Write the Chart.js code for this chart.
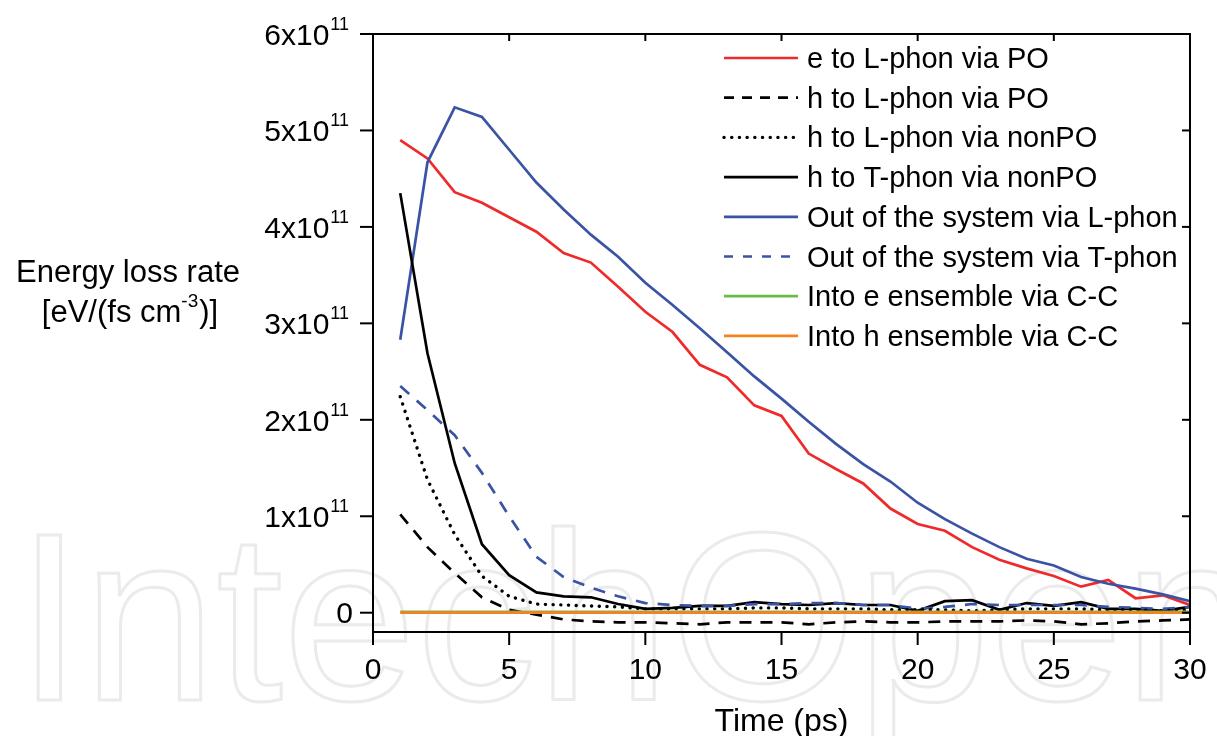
<!DOCTYPE html>
<html>
<head>
<meta charset="utf-8">
<title>Energy loss rate</title>
<script src="https://cdn.jsdelivr.net/npm/chart.js@4.4.1/dist/chart.umd.min.js"></script>
<style>
  html, body { margin: 0; padding: 0; background: #fff; }
  #wrap { width: 1217px; height: 736px; }
</style>
</head>
<body>
<div id="wrap"><canvas id="chart" width="1217" height="736"></canvas></div>
<script>
// time axis (ps) and series values, in units of 1e11 eV/(fs cm^-3)
const timePs = [1, 2, 3, 4, 5, 6, 7, 8, 9, 10, 11, 12, 13, 14, 15, 16, 17, 18, 19, 20, 21, 22, 23, 24, 25, 26, 27, 28, 29, 30];

const eToLphonPO = [4.90, 4.71, 4.36, 4.25, 4.10, 3.95, 3.73, 3.63, 3.38, 3.12, 2.91, 2.57, 2.44, 2.15, 2.04,
                    1.65, 1.49, 1.34, 1.08, 0.92, 0.85, 0.68, 0.55, 0.46, 0.38, 0.27, 0.34, 0.15, 0.18, 0.08];
const hToLphonPO = [1.02, 0.68, 0.41, 0.16, 0.03, -0.02, -0.07, -0.09, -0.10, -0.10, -0.11, -0.12, -0.10, -0.10, -0.10,
                    -0.12, -0.10, -0.09, -0.10, -0.10, -0.09, -0.09, -0.09, -0.08, -0.09, -0.12, -0.11, -0.09, -0.08, -0.07];
const hToLphonNonPO = [2.24, 1.38, 0.81, 0.38, 0.17, 0.09, 0.08, 0.07, 0.06, 0.04, 0.04, 0.04, 0.04, 0.05, 0.05,
                       0.04, 0.04, 0.04, 0.03, 0.03, 0.03, 0.02, 0.03, 0.04, 0.04, 0.04, 0.03, 0.03, 0.02, 0.03];
const hToTphonNonPO = [4.35, 2.69, 1.55, 0.71, 0.39, 0.21, 0.17, 0.16, 0.09, 0.04, 0.05, 0.07, 0.07, 0.11, 0.09,
                       0.08, 0.10, 0.08, 0.08, 0.02, 0.12, 0.13, 0.03, 0.10, 0.07, 0.11, 0.04, 0.04, 0.02, 0.06];
const outViaLphon = [2.83, 4.67, 5.24, 5.14, 4.80, 4.46, 4.18, 3.92, 3.69, 3.42, 3.19, 2.95, 2.70, 2.45, 2.22,
                     1.98, 1.75, 1.54, 1.36, 1.14, 0.97, 0.82, 0.68, 0.56, 0.49, 0.37, 0.30, 0.25, 0.19, 0.12];
const outViaTphon = [2.35, 2.10, 1.84, 1.45, 1.00, 0.58, 0.37, 0.26, 0.17, 0.10, 0.08, 0.07, 0.07, 0.09, 0.09,
                     0.10, 0.10, 0.08, 0.08, 0.04, 0.06, 0.09, 0.08, 0.08, 0.08, 0.08, 0.06, 0.05, 0.04, 0.06];
const intoEviaCC = [0.01, 0.01, 0.01, 0.01, 0.01, 0.01, 0.01, 0.01, 0.01, 0.01, 0.01, 0.01, 0.01, 0.01, 0.01,
                    0.01, 0.01, 0.01, 0.01, 0.01, 0.01, 0.01, 0.01, 0.01, 0.01, 0.01, 0.01, 0.01, 0.01, 0.01];
const intoHviaCC = [0, 0, 0, 0, 0, 0, 0, 0, 0, 0, 0, 0, 0, 0, 0,
                    0, 0, 0, 0, 0, 0, 0, 0, 0, 0, 0, 0, 0, 0, 0];

const seriesLabels = ['e to L-phon via PO', 'h to L-phon via PO', 'h to L-phon via nonPO', 'h to T-phon via nonPO',
                      'Out of the system via L-phon', 'Out of the system via T-phon', 'Into e ensemble via C-C', 'Into h ensemble via C-C'];
const xTicks = [0, 5, 10, 15, 20, 25, 30];
const yTicks = [0, 1, 2, 3, 4, 5, 6];

const FONT = '"Liberation Sans", Arial, sans-serif';
const RED = '#ee2a2a', BLUE = '#3a53a4', BLACK = '#000000', GREEN = '#69bd45', ORANGE = '#f58220';

function pts(arr) {
    return arr.map((v, i) => ({ x: timePs[i], y: v }));
}

function ds(label, arr, color, dash, cap) {
    return {
        label: label,
        data: pts(arr),
        borderColor: color,
        backgroundColor: color,
        borderWidth: dash && dash[0] < 1 ? 3.4 : 2.7,
        borderDash: dash || [],
        borderCapStyle: cap || 'butt',
        pointRadius: 0,
        tension: 0,
        fill: false
    };
}

// first dataset ends up on top
const datasets = [
    ds(seriesLabels[7], intoHviaCC, ORANGE),
    ds(seriesLabels[6], intoEviaCC, GREEN),
    ds(seriesLabels[1], hToLphonPO, BLACK, [12, 9]),
    ds(seriesLabels[2], hToLphonNonPO, BLACK, [0.1, 7.6], 'round'),
    ds(seriesLabels[5], outViaTphon, BLUE, [12, 10]),
    ds(seriesLabels[3], hToTphonNonPO, BLACK),
    ds(seriesLabels[4], outViaLphon, BLUE),
    ds(seriesLabels[0], eToLphonPO, RED)
];

// legend order and styles as in the figure
const legendItems = [
    { text: seriesLabels[0], color: RED, dash: [] },
    { text: seriesLabels[1], color: BLACK, dash: [10, 8] },
    { text: seriesLabels[2], color: BLACK, dash: [0.1, 7.6], cap: 'round', width: 3.4 },
    { text: seriesLabels[3], color: BLACK, dash: [] },
    { text: seriesLabels[4], color: BLUE, dash: [] },
    { text: seriesLabels[5], color: BLUE, dash: [9, 10] },
    { text: seriesLabels[6], color: GREEN, dash: [] },
    { text: seriesLabels[7], color: ORANGE, dash: [] }
];

function line(ctx, x1, y1, x2, y2) {
    ctx.beginPath();
    ctx.moveTo(x1, y1);
    ctx.lineTo(x2, y2);
    ctx.stroke();
}

const watermark = {
    id: 'watermark',
    beforeDatasetsDraw(chart) {
        const ctx = chart.ctx;
        ctx.save();
        ctx.font = '240px ' + FONT;
        ctx.strokeStyle = '#ebebeb';
        ctx.lineWidth = 3;
        ctx.textBaseline = 'alphabetic';
        ctx.textAlign = 'left';
        ctx.strokeText('IntechOpen', 16, 700);
        ctx.restore();
    }
};

const frame = {
    id: 'frame',
    afterDraw(chart) {
        const { ctx, chartArea: a, scales: { x, y } } = chart;
        ctx.save();
        ctx.strokeStyle = '#000';
        ctx.lineWidth = 2;
        ctx.setLineDash([]);
        ctx.strokeRect(a.left, a.top, a.right - a.left, a.bottom - a.top);

        ctx.fillStyle = '#000';
        // x axis ticks and labels
        ctx.font = '30px ' + FONT;
        ctx.textAlign = 'center';
        ctx.textBaseline = 'alphabetic';
        xTicks.forEach(v => {
            const px = x.getPixelForValue(v);
            line(ctx, px, a.bottom, px, a.bottom + 13);
            line(ctx, px, a.top, px, a.top + 7);
            ctx.fillText(String(v), px, 679);
        });

        // y axis ticks and labels (Nx10^11)
        yTicks.forEach(v => {
            const py = y.getPixelForValue(v);
            line(ctx, a.left - 13, py, a.left, py);
            line(ctx, a.right - 8, py, a.right, py);
            const right = v === 0 ? 353 : 349;
            ctx.textAlign = 'right';
            if (v === 0) {
                ctx.font = '30px ' + FONT;
                ctx.fillText('0', right, py + 10);
            } else {
                ctx.font = '18px ' + FONT;
                const supW = ctx.measureText('11').width + 1;
                ctx.fillText('11', right, py - 4);
                ctx.font = '30px ' + FONT;
                ctx.fillText(v + 'x10', right - supW, py + 11);
            }
        });

        // axis titles
        ctx.textAlign = 'center';
        ctx.font = '32px ' + FONT;
        ctx.fillText('Time (ps)', (a.left + a.right) / 2, 731);

        ctx.font = '31px ' + FONT;
        ctx.fillText('Energy loss rate', 128, 282);
        const p1 = '[eV/(fs cm', sup = '-3', p2 = ')]';
        const w1 = ctx.measureText(p1).width, w2 = ctx.measureText(p2).width;
        ctx.font = '19px ' + FONT;
        const ws = ctx.measureText(sup).width + 1;
        let sx = 130 - (w1 + ws + w2) / 2;
        ctx.textAlign = 'left';
        ctx.font = '31px ' + FONT;
        ctx.fillText(p1, sx, 322);
        ctx.font = '19px ' + FONT;
        ctx.fillText(sup, sx + w1, 307);
        ctx.font = '31px ' + FONT;
        ctx.fillText(p2, sx + w1 + ws, 322);

        // legend
        ctx.textBaseline = 'middle';
        legendItems.forEach((it, i) => {
            const ly = 58 + i * 39.7;
            ctx.strokeStyle = it.color;
            ctx.lineWidth = it.width || 2.7;
            ctx.lineCap = it.cap || 'butt';
            ctx.setLineDash(it.dash);
            line(ctx, 724, ly, 798, ly);
            ctx.setLineDash([]);
            ctx.fillStyle = '#000';
            ctx.font = '29px ' + FONT;
            ctx.fillText(it.text, 807, ly + 2);
        });
        ctx.restore();
    }
};

new Chart(document.getElementById('chart'), {
    type: 'line',
    data: { datasets: datasets },
    options: {
        responsive: false,
        animation: false,
        layout: { padding: { left: 373, right: 27, top: 34, bottom: 104 } },
        plugins: { legend: { display: false }, tooltip: { enabled: false } },
        scales: {
            x: { type: 'linear', min: 0, max: 30, display: false },
            y: { type: 'linear', min: -0.2, max: 6, display: false }
        }
    },
    plugins: [watermark, frame]
});
</script>
</body>
</html>
